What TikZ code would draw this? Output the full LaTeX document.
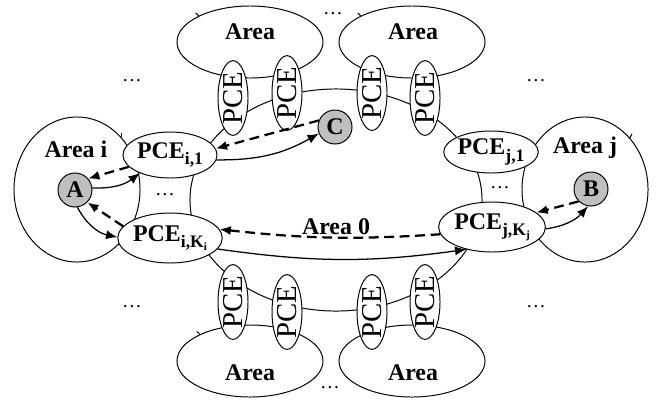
\documentclass[tikz,border=0pt]{standalone}
\usepackage{fontspec}
\setmainfont{Liberation Serif}
\usetikzlibrary{shapes.geometric,arrows.meta}
\newcommand{\pcesub}[1]{\raisebox{-4.5pt}{\fontsize{12.5}{12.5}\selectfont #1}}
\newcommand{\pcesubsub}[1]{\raisebox{-2pt}{\fontsize{8}{8}\selectfont #1}}

\begin{document}
\begin{tikzpicture}[x=0.025cm,y=0.025cm,
        area/.style={draw, ellipse, line width=0.7pt, inner sep=0pt},
        pce/.style={draw, ellipse, fill=white, line width=0.7pt, minimum width=2.35cm, inner sep=0pt, font=\fontsize{17}{18}\bfseries\selectfont},
        pcesmall/.style={draw, ellipse, fill=white, line width=0.7pt, rotate=90, minimum width=1.55cm, minimum height=0.75cm, inner sep=0pt, font=\fontsize{20.5}{20.5}\selectfont},
        host/.style={draw, circle, fill=gray!50, line width=0.7pt, minimum size=0.85cm, inner sep=0pt, font=\fontsize{17}{18}\bfseries\selectfont},
        areaname/.style={font=\fontsize{17}{18}\bfseries\selectfont},
        more/.style={font=\fontsize{14}{14}\selectfont, inner sep=0pt},
        req/.style={-{Latex[length=8pt,width=6.5pt]}, line width=0.9pt},
        rep/.style={-{Latex[length=8pt,width=6.5pt]}, line width=1.6pt, dash pattern=on 7pt off 4pt}]
        \useasboundingbox (0,0) rectangle (661,-402);

        \node[area, minimum width=7.3cm, minimum height=5.55cm] (area0) at (336,-200) {};
        \node[area, minimum width=3.15cm, minimum height=3.625cm] (areai) at (77,-189.5) {};
        \node[area, minimum width=3.15cm, minimum height=3.625cm] (areaj) at (585,-189.5) {};
        \node[area, minimum width=3.65cm, minimum height=1.8cm] (areaNW) at (250,-42) {};
        \node[area, minimum width=3.65cm, minimum height=1.8cm] (areaNE) at (412,-42) {};
        \node[area, minimum width=3.65cm, minimum height=1.8cm] (areaSW) at (250,-361) {};
        \node[area, minimum width=3.65cm, minimum height=1.8cm] (areaSE) at (412,-361) {};

        \draw[line width=0.7pt] (areai.50) -- ++(0,4);
        \draw[line width=0.7pt] (areaj.49) -- ++(2,4);
        \draw[line width=0.7pt] (areaNW.153) -- ++(-3,3);
        \draw[line width=0.7pt] (areaNE.153) -- ++(-3,3);
        \draw[line width=0.7pt] (areaSW.152) -- ++(-3,3);
        \draw[line width=0.7pt] (areaSE.152) -- ++(-3,3);

        \node[pcesmall] (pceN1) at (233,-98) {PCE};
        \node[pcesmall] (pceN2) at (287,-93) {PCE};
        \node[pcesmall] (pceN3) at (372,-93) {PCE};
        \node[pcesmall] (pceN4) at (425,-98) {PCE};
        \node[pcesmall] (pceS1) at (233,-302) {PCE};
        \node[pcesmall] (pceS2) at (287,-312) {PCE};
        \node[pcesmall] (pceS3) at (372,-312) {PCE};
        \node[pcesmall] (pceS4) at (425,-302) {PCE};

        \node[pce, minimum height=1.15cm] (pcei1) at (170,-155) {PCE\pcesub{i,1}};
        \node[pce, minimum height=1.25cm] (pceiK) at (170,-238) {PCE\pcesub{i,K\pcesubsub{i}}};
        \node[pce, minimum height=1.05cm] (pcej1) at (491,-152) {PCE\pcesub{j,1}};
        \node[pce, minimum height=1.25cm] (pcejK) at (492,-227) {PCE\pcesub{j,K\pcesubsub{j}}};

        \node[host] (hostA) at (75,-190) {A};
        \node[host] (hostB) at (591,-189) {B};
        \node[host] (hostC) at (335,-127) {C};

        \node[areaname] (nameNW) at (250,-32) {Area};
        \node[areaname] (nameNE) at (413,-32) {Area};
        \node[areaname] (nameSW) at (250,-373) {Area};
        \node[areaname] (nameSE) at (413,-373) {Area};
        \node[areaname] (namei) at (76,-149) {Area i};
        \node[areaname] (namej) at (585,-148) {Area j};
        \node[areaname] (name0) at (336,-227) {Area 0};

        \node[more] (moreN) at (333,-14) {\dots};
        \node[more] (moreS) at (330,-388) {\dots};
        \node[more] (moreNW) at (132,-81) {\dots};
        \node[more] (moreNE) at (536,-81) {\dots};
        \node[more] (moreSW) at (132,-307) {\dots};
        \node[more] (moreSE) at (536,-307) {\dots};
        \node[more] (morei) at (165,-195) {\dots};
        \node[more] (morej) at (500,-188) {\dots};

        \draw[rep] (pcei1.196) -- (hostA.41);
        \draw[req] (hostA.7) to[bend right=20] (pcei1.211);
        \draw[rep] (pceiK.166) -- (hostA.-45);
        \draw[req] (hostA.-82) to[bend right=25] (pceiK.179);

        \draw[rep] (hostC.158) -- (pcei1.8);
        \draw[req] (pcei1.-6) to[bend right=15] (hostC.202);

        \draw[rep] (pcejK.188) to[bend left=5] (pceiK.10);
        \draw[req] (pceiK.-13) to[bend right=8] (pcejK.221);

        \draw[rep] (hostB.225) -- (pcejK.18);
        \draw[req] (pcejK.-2) to[bend right=20] (hostB.260);
\end{tikzpicture}
\end{document}
